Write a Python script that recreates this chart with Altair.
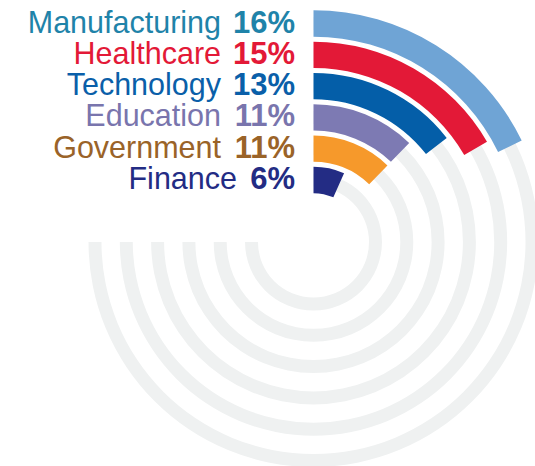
import math
import altair as alt
import pandas as pd

categories = ["Manufacturing", "Healthcare", "Technology", "Education", "Government", "Finance"]
values = [16, 15, 13, 11, 11, 6]
bar_colors = ["#6fa4d5", "#e31937", "#045ea8", "#7d7ab3", "#f6992b", "#232c84"]
text_colors = ["#1f83a9", "#e31937", "#0a5fa9", "#7975ad", "#9a6328", "#232c84"]
track_value = 67.5  # three quarters of the 0-90 scale

n = len(categories)
df = pd.DataFrame({
    "category": categories,
    "value": values,
    "ring": [n - i for i in range(n)],
    "start": [0] * n,
    "track": [track_value] * n,
    "pct": [f"{v}%" for v in values],
})

theta_scale = alt.Scale(domain=[0, 90], range=[0, 2 * math.pi])
radius_scale = alt.Scale(type="linear", domain=[0, 7], range=[30.7, 249.8], zero=False)
color_bar = alt.Scale(domain=categories, range=bar_colors)
color_text = alt.Scale(domain=categories, range=text_colors)

cx, cy = 313.5, 242

base = alt.Chart(df)

tracks = base.transform_calculate(
    r0="datum.ring - 0.207", r1="datum.ring + 0.207"
).mark_arc(color="#eff1f1").encode(
    theta=alt.Theta("track:Q", stack=None, scale=theta_scale),
    theta2="start:Q",
    radius=alt.Radius("r0:Q", scale=radius_scale),
    radius2="r1:Q",
    x=alt.value(cx), y=alt.value(cy),
)

bars = base.transform_calculate(
    r0="datum.ring - 0.42", r1="datum.ring + 0.42"
).mark_arc().encode(
    theta=alt.Theta("value:Q", stack=None, scale=theta_scale),
    theta2="start:Q",
    radius=alt.Radius("r0:Q", scale=radius_scale),
    radius2="r1:Q",
    color=alt.Color("category:N", scale=color_bar, legend=None),
    x=alt.value(cx), y=alt.value(cy),
)

y_scale = alt.Scale(domain=[0, 7], range=[220.3, 1.2], zero=False)
fs_name = 30.5
fs_pct = 31
font = "Liberation Sans"
right_x = 295

pct_text = base.mark_text(
    align="right", baseline="alphabetic", font=font, fontSize=fs_pct, fontWeight="bold"
).encode(
    x=alt.value(right_x),
    y=alt.Y("ring:Q", scale=y_scale, axis=None),
    text="pct:N",
    color=alt.Color("category:N", scale=color_text, legend=None),
)

name_two = base.transform_filter("datum.value >= 10").mark_text(
    align="right", baseline="alphabetic", font=font, fontSize=fs_name, dx=-74
).encode(
    x=alt.value(right_x),
    y=alt.Y("ring:Q", scale=y_scale, axis=None),
    text="category:N",
    color=alt.Color("category:N", scale=color_text, legend=None),
)

name_one = base.transform_filter("datum.value < 10").mark_text(
    align="right", baseline="alphabetic", font=font, fontSize=fs_name, dx=-58
).encode(
    x=alt.value(right_x),
    y=alt.Y("ring:Q", scale=y_scale, axis=None),
    text="category:N",
    color=alt.Color("category:N", scale=color_text, legend=None),
)

chart = alt.layer(tracks, bars, pct_text, name_two, name_one).resolve_scale(
    color="independent"
).properties(
    width=535, height=466, padding=0, autosize=alt.AutoSizeParams(type="none")
).configure_view(stroke=None)

chart.save("out.html", embed_options={"renderer": "svg", "actions": False})
